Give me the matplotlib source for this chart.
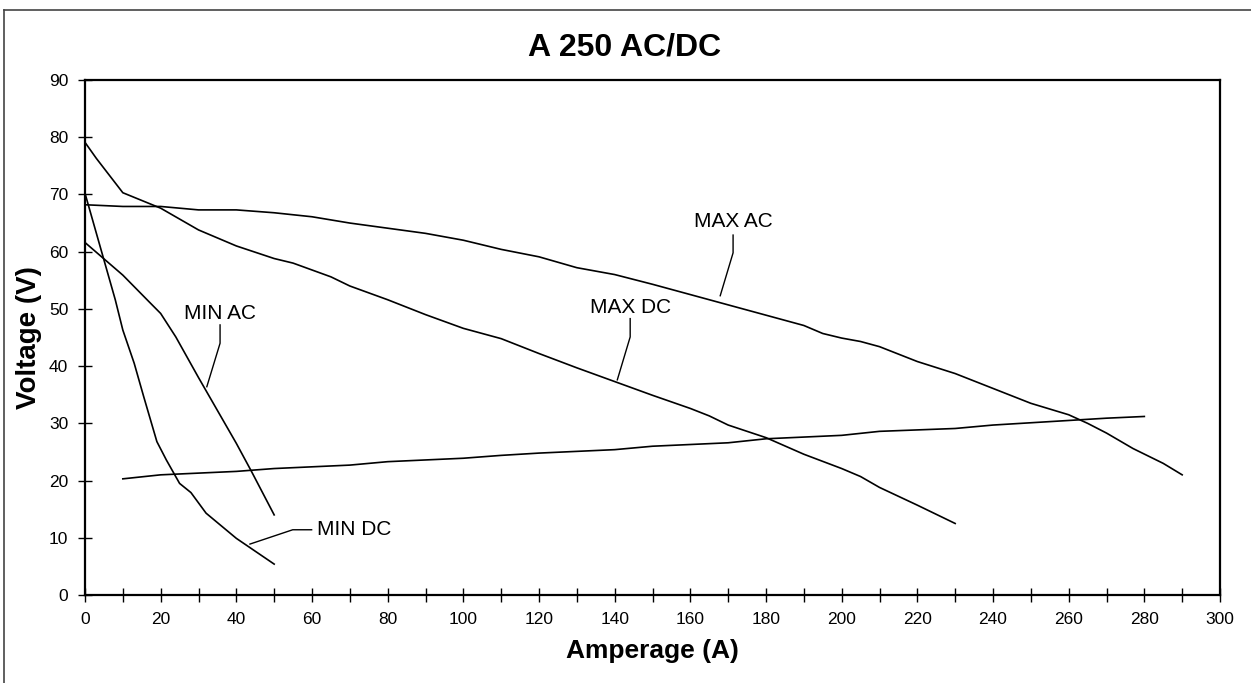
import matplotlib
matplotlib.use("Agg")
import matplotlib.pyplot as plt
from matplotlib.lines import Line2D

plt.rcParams['font.family'] = ['Liberation Sans', 'DejaVu Sans']

# curve data (amperage A, voltage V)
max_ac_a = [0, 10, 20, 30, 40, 50, 60, 70, 80, 90, 100, 110, 120, 130, 140, 150,
            160, 170, 180, 190, 195, 200, 205, 210, 220, 230, 240, 250, 260, 265,
            270, 277, 285, 290]
max_ac_v = [68.2, 67.9, 67.9, 67.3, 67.3, 66.8, 66.1, 65.0, 64.1, 63.2, 62.0, 60.4,
            59.1, 57.2, 56.0, 54.3, 52.5, 50.7, 48.9, 47.1, 45.7, 44.9, 44.3, 43.4,
            40.8, 38.7, 36.1, 33.5, 31.5, 30.0, 28.3, 25.6, 23.0, 21.0]

max_dc_a = [0, 3, 10, 20, 30, 40, 50, 55, 65, 70, 80, 90, 100, 110, 120, 130, 140,
            150, 160, 165, 170, 180, 190, 200, 205, 210, 220, 230]
max_dc_v = [79.1, 76.3, 70.3, 67.6, 63.8, 61.0, 58.8, 58.0, 55.6, 54.0, 51.6, 49.0,
            46.6, 44.8, 42.2, 39.7, 37.3, 34.9, 32.6, 31.3, 29.7, 27.5, 24.6, 22.1,
            20.7, 18.8, 15.7, 12.5]

min_ac_a = [0, 10, 17, 20, 24, 30, 40, 44, 50]
min_ac_v = [61.6, 55.9, 51.2, 49.2, 45.1, 38.0, 26.5, 21.6, 14.0]

min_dc_a = [0, 8, 10, 13, 15.5, 19, 21.5, 25, 28, 32, 40, 50]
min_dc_v = [70.2, 51.6, 46.3, 40.5, 34.7, 26.8, 23.6, 19.5, 17.9, 14.3, 9.9, 5.4]

arc_a = [10, 20, 40, 50, 70, 80, 100, 110, 120, 130, 140, 150, 160, 170, 180, 190,
         200, 210, 230, 240, 260, 270, 280]
arc_v = [20.3, 21.0, 21.6, 22.1, 22.7, 23.3, 23.9, 24.4, 24.8, 25.1, 25.4, 26.0,
         26.3, 26.6, 27.3, 27.6, 27.9, 28.6, 29.1, 29.7, 30.5, 30.9, 31.2]

W, H = 1251, 683
fig = plt.figure(figsize=(W / 100, H / 100), dpi=100)
ax = fig.add_axes([85 / W, 1 - 595 / H, (1220 - 85) / W, (595 - 80) / H])

for a, v in [(max_ac_a, max_ac_v), (max_dc_a, max_dc_v), (min_ac_a, min_ac_v),
             (min_dc_a, min_dc_v), (arc_a, arc_v)]:
    ax.plot(a, v, color='black', lw=1.2)

# labels with leader lines
lead = dict(color='black', lw=1.0)
ax.text(171.3, 65.2, 'MAX AC', fontsize=15, ha='center', va='center')
ax.plot([171.3, 171.3, 167.9], [62.9, 59.8, 52.3], **lead)
ax.text(144.1, 50.2, 'MAX DC', fontsize=15, ha='center', va='center')
ax.plot([144.1, 144.1, 140.7], [48.3, 45.1, 37.6], **lead)
ax.text(35.7, 49.2, 'MIN AC', fontsize=15, ha='center', va='center')
ax.plot([35.7, 35.7, 32.2], [47.2, 44.0, 36.4], **lead)
ax.text(61.2, 11.4, 'MIN DC', fontsize=15, ha='left', va='center')
ax.plot([59.9, 54.9, 43.6], [11.4, 11.4, 8.9], **lead)

ax.set_xlim(0, 300)
ax.set_ylim(0, 90)
ax.set_xticks(range(0, 301, 20))
ax.set_xticks(range(0, 301, 10), minor=True)
ax.set_yticks(range(0, 91, 10))
ax.tick_params(axis='both', which='both', direction='inout', length=10,
               width=1.0, labelsize=12.5)
ax.tick_params(axis='x', pad=7)
ax.tick_params(axis='y', pad=7)
for s in ax.spines.values():
    s.set_linewidth(1.6)

fig.text(625 / W, 1 - 47 / H, 'A 250 AC/DC', fontsize=23, fontweight='bold',
         ha='center', va='center')
ax.set_xlabel('Amperage (A)', fontsize=19, fontweight='bold', labelpad=9)
ax.set_ylabel('Voltage (V)', fontsize=20, fontweight='bold', labelpad=5)

# outer frame (top and left edges only)
fig.add_artist(Line2D([4 / W, 1], [1 - 10 / H, 1 - 10 / H], color='#444444', lw=1.2,
                      transform=fig.transFigure))
fig.add_artist(Line2D([4 / W, 4 / W], [0, 1 - 10 / H], color='#444444', lw=1.2,
                      transform=fig.transFigure))

fig.savefig('out.png', dpi=100)
